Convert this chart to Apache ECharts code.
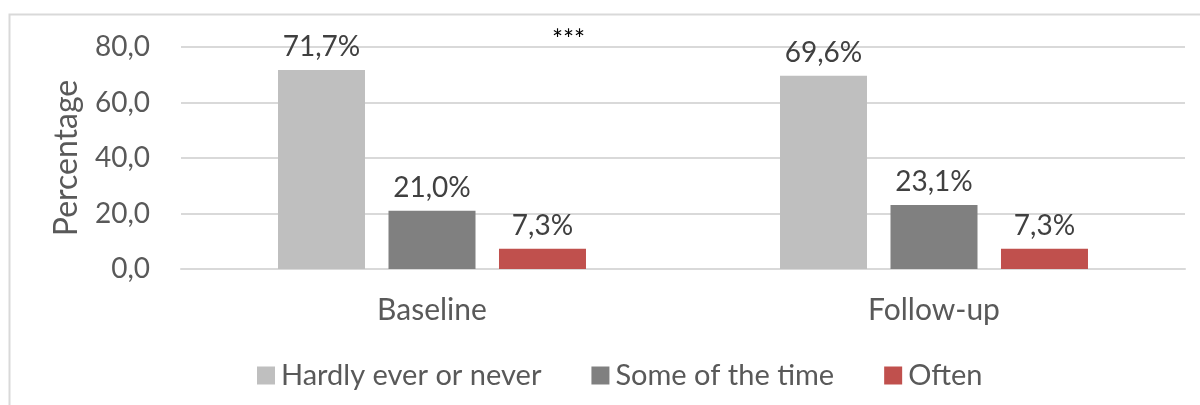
<!DOCTYPE html>
<html><head><meta charset="utf-8">
<script src="https://cdn.jsdelivr.net/npm/echarts@6/dist/echarts.min.js"></script>
<style>html,body{margin:0;padding:0;background:#fff}#c{width:1200px;height:405px}</style>
</head><body><div id="c"></div>
<script>
const categories = ['Baseline', 'Follow-up'];
const seriesNames = ['Hardly ever or never', 'Some of the time', 'Often'];
const hardly = [71.7, 69.6];
const some = [21.0, 23.1];
const often = [7.3, 7.3];
const yTicks = [0, 20, 40, 60, 80];
const colors = ['#bfbfbf', '#808080', '#c0504d'];
const FONT = 'Lato';
const fmt = v => v.toFixed(1).replace('.', ',');
const chart = echarts.init(document.getElementById('c'));
const mk = (name, data, color) => ({
  name, type: 'bar', data, barWidth: 87, barGap: '27%',
  itemStyle: { color },
  label: { show: true, position: 'top', distance: 9, color: '#404040', fontFamily: FONT, fontSize: 28,
    formatter: p => fmt(p.value) + '%' }
});
chart.setOption({
  animation: false,
  textStyle: { fontFamily: FONT },
  grid: { left: 181, right: 15, top: 47, bottom: 136 },
  graphic: [
    { type: 'polyline', shape: { points: [[9.5, 420], [9.5, 14.5], [1210, 14.5]] }, style: { stroke: '#d9d9d9', lineWidth: 2, fill: null } },
    { type: 'text', left: 552, top: 28, style: { text: '***', fill: '#000', font: '26px ' + FONT } }
  ],
  legend: {
    left: 252, top: 356, itemWidth: 18, itemHeight: 18, itemGap: 50,
    icon: 'rect',
    textStyle: { color: '#595959', fontFamily: FONT, fontSize: 29, padding: [0, 0, 0, 1] },
    data: seriesNames
  },
  xAxis: {
    type: 'category', data: categories,
    axisLine: { lineStyle: { color: '#d9d9d9', width: 2 } },
    axisTick: { show: false },
    axisLabel: { color: '#595959', fontFamily: FONT, fontSize: 30, margin: 26 }
  },
  yAxis: {
    type: 'value', min: yTicks[0], max: yTicks[yTicks.length - 1], interval: 20,
    name: 'Percentage', nameLocation: 'middle', nameGap: 98, nameRotate: 90,
    nameTextStyle: { color: '#595959', fontFamily: FONT, fontSize: 32 },
    axisLine: { show: false }, axisTick: { show: false },
    splitLine: { lineStyle: { color: '#d9d9d9', width: 2 } },
    axisLabel: { color: '#595959', fontFamily: FONT, fontSize: 28, margin: 31, formatter: v => fmt(v) }
  },
  series: [mk(seriesNames[0], hardly, colors[0]), mk(seriesNames[1], some, colors[1]), mk(seriesNames[2], often, colors[2])]
});
</script></body></html>
